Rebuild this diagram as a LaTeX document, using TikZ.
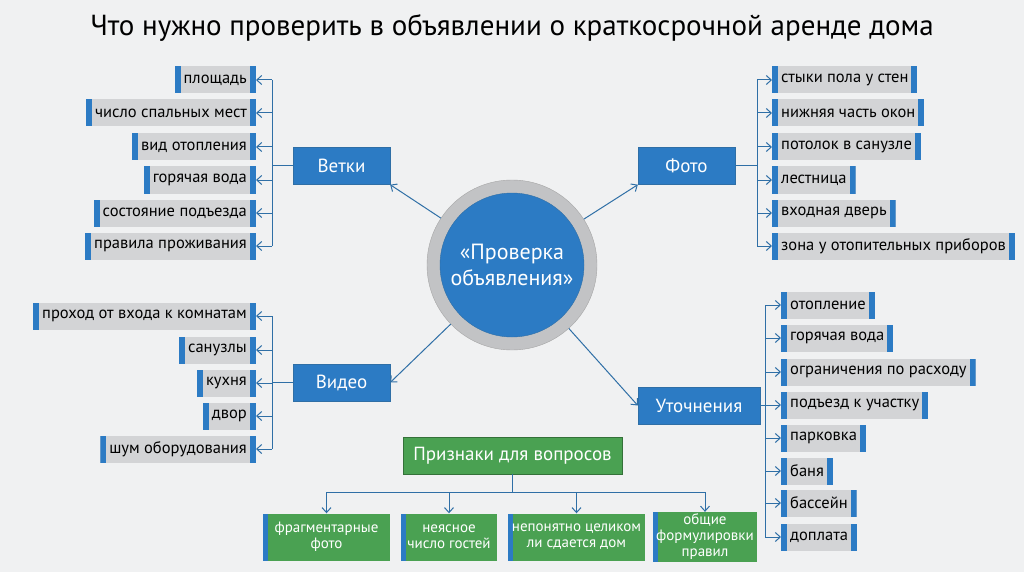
\documentclass[tikz,border=0pt]{standalone}
\usepackage{fontspec}
\setmainfont{PT Sans}
\usetikzlibrary{arrows.meta}
\definecolor{bg}{HTML}{F0F1F2}
\definecolor{blu}{HTML}{2C7BC4}
\definecolor{gry}{HTML}{D3D4D6}
\definecolor{grn}{HTML}{4AA152}
\definecolor{ln}{HTML}{2F6FA6}
\begin{document}
\begin{tikzpicture}[x=1pt,y=-1pt,
 lit/.style={fill=gry,minimum height=27pt,inner xsep=9pt,font=\fontsize{16.5}{19}\selectfont,
   path picture={\fill[blu] (path picture bounding box.south west) rectangle ([xshift=6pt]path picture bounding box.north west);
   \fill[blu] (path picture bounding box.south east) rectangle ([xshift=-6pt]path picture bounding box.north east);}},
 hub/.style={fill=blu,draw=ln,text=white,minimum height=37pt,font=\fontsize{19}{21}\selectfont},
 gb/.style={fill=grn,text=white,minimum height=47pt,font=\fontsize{15}{16}\selectfont,align=center,inner sep=2pt,
   path picture={\fill[blu] (path picture bounding box.south west) rectangle ([xshift=5pt]path picture bounding box.north west);}},
 ar/.style={ln,line width=1pt,arrows={-Straight Barb[length=5pt,width=9pt]}},
 ln2/.style={ln,line width=1pt}]
\useasboundingbox (0,0) rectangle (1024,572);
\fill[bg] (0,0) rectangle (1024,572);
\node[font=\fontsize{29}{32}\selectfont] (title) at (512,28) {Что нужно проверить в объявлении о краткосрочной аренде дома};
% centre
\node[circle,fill=gry!80!gray,draw=gray!70,minimum size=170pt] (c) at (512,265) {};
\node[circle,fill=blu,draw=ln,minimum size=144pt,text=white,align=center,font=\fontsize{22}{26}\selectfont] (cc) at (512,265) {«Проверка\\объявления»};
% hubs
\node[hub,minimum width=97pt] (vet) at (341.5,166) {Ветки};
\node[hub,minimum width=97pt] (vid) at (341.5,382.5) {Видео};
\node[hub,minimum width=97pt] (fot) at (686.5,166) {Фото};
\node[hub,minimum width=122pt] (ut) at (699,405.5) {Уточнения};
\draw[ar] (c) -- (vet.south east);
\draw[ar] (c) -- (fot.south west);
\draw[ar] (c) -- (vid.east);
\draw[ar] (c) -- (ut.west);
% left top
\coordinate (vl) at (272,166);
\foreach \t/\y [count=\i] in {площадь/80,число спальных мест/113,вид отопления/147,горячая вода/180,состояние подъезда/213,правила проживания/246}{
 \node[lit,anchor=east] (l\i) at (256,\y) {\t};
 \draw[ar] (272,\y) -- (l\i.east);}
\draw[ln2] (272,80) -- (272,246);
\draw[ln2] (vet.west) -- (vl);
% left bottom
\foreach \t/\y [count=\i] in {проход от входа к комнатам/316,санузлы/350,кухня/383,двор/416,шум оборудования/449}{
 \node[lit,anchor=east] (m\i) at (256,\y) {\t};
 \draw[ar] (272,\y) -- (m\i.east);}
\draw[ln2] (272,316) -- (272,449);
\coordinate (vm) at (272,382.5);
\draw[ln2] (vid.west) -- (vm);
% right top
\foreach \t/\y [count=\i] in {стыки пола у стен/80,нижняя часть окон/113,потолок в санузле/147,лестница/180,входная дверь/213,зона у отопительных приборов/246}{
 \node[lit,anchor=west] (r\i) at (772,\y) {\t};
 \draw[ar] (757,\y) -- (r\i.west);}
\draw[ln2] (757,80) -- (757,246);
\coordinate (vr) at (757,166);
\draw[ln2] (fot.east) -- (vr);
% right bottom
\foreach \t/\y [count=\i] in {отопление/305,горячая вода/338,ограничения по расходу/372,подъезд к участку/405,парковка/438,баня/471,бассейн/503,доплата/537}{
 \node[lit,anchor=west] (s\i) at (781,\y) {\t};
 \draw[ar] (765,\y) -- (s\i.west);}
\draw[ln2] (765,305) -- (765,537);
\coordinate (vs) at (765,405.5);
\draw[ln2] (ut.east) -- (vs);
% green
\node[fill=grn,draw=grn!70!black,text=white,minimum width=219pt,minimum height=37pt,font=\fontsize{19}{21}\selectfont] (pr) at (512.5,455.5) {Признаки для вопросов};
\node[gb,minimum width=127pt] (g1) at (326.5,537) {фрагментарные\\фото};
\node[gb,minimum width=96pt] (g2) at (449,537) {неясное\\число гостей};
\node[gb,minimum width=137pt] (g3) at (576.5,537) {непонятно целиком\\ли сдается дом};
\node[gb,minimum width=104pt] (g4) at (705,537) {общие\\формулировки\\правил};
\coordinate (bus) at (512.5,492);
\draw[ln2] (pr.south) -- (bus);
\draw[ln2] (g1.north |- bus) -- (g4.north |- bus);
\foreach \g in {g1,g2,g3,g4}{\draw[ar] (\g.north |- bus) -- (\g.north);}
\end{tikzpicture}
\end{document}
